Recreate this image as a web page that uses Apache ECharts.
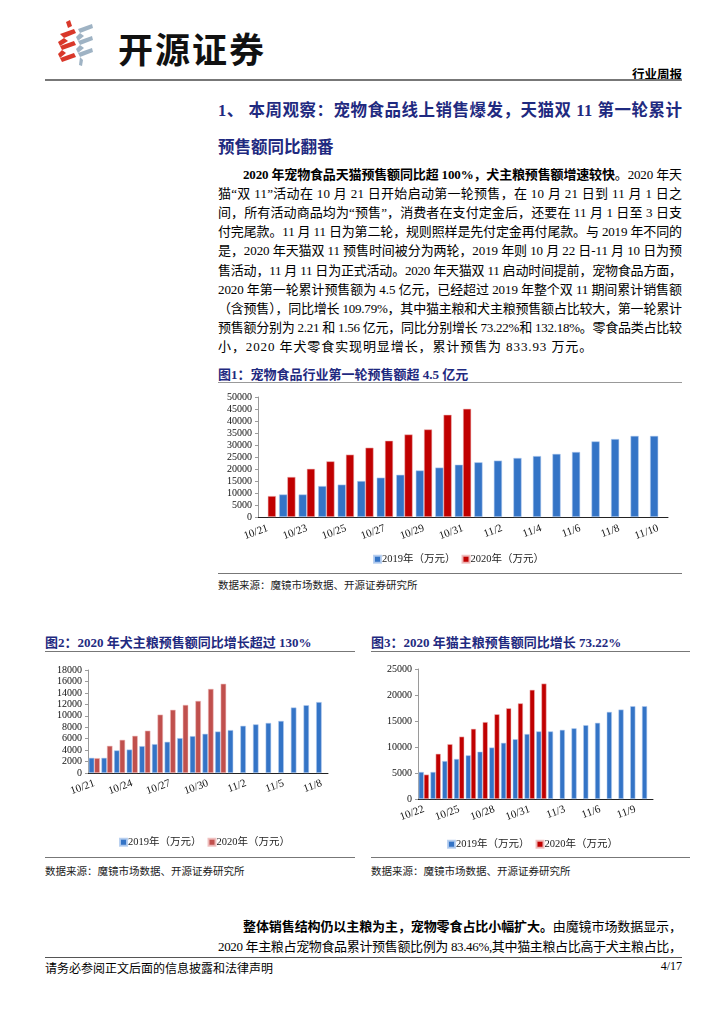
<!DOCTYPE html>
<html><head><meta charset="utf-8">
<script src="https://cdn.jsdelivr.net/npm/echarts@6/dist/echarts.min.js"></script>
<style>
html,body{margin:0;padding:0;background:#fff;}
body{width:724px;height:1024px;position:relative;overflow:hidden;font-family:"Liberation Serif","Noto Sans CJK SC",serif;color:#000;}
.abs{position:absolute;white-space:nowrap;}
.rule{position:absolute;height:0;}
.h1{position:absolute;left:218px;width:464px;font-size:16.5px;font-weight:bold;color:#1f2a80;white-space:nowrap;}
.p{position:absolute;left:218px;width:464px;font-size:13px;line-height:16px;white-space:nowrap;}
.ft{font-size:13px;font-weight:bold;color:#1f2a80;}
.src{font-size:10.5px;color:#222;}
.chart{position:absolute;}
</style></head>
<body>
<!-- header -->
<svg class="abs" style="left:56px;top:20px" width="40" height="46" viewBox="0 0 40 46">
  <path d="M10 2 L14 0 L16 6 L12 8 Z" fill="#d9382a"/>
  <path d="M4 14 L18 9 L20 13 L8 18 Z" fill="#d9382a"/>
  <path d="M8 18 L12 21 L4 26 L2 22 Z" fill="#d9382a"/>
  <path d="M4 26 L18 21 L20 25 L6 30 Z" fill="#d9382a"/>
  <path d="M6 30 L10 33 L4 38 L2 34 Z" fill="#d9382a"/>
  <path d="M4 38 L18 33 L20 37 L6 42 Z" fill="#d9382a"/>
  <path d="M22 9 L36 4 L37 8 L24 13 Z" fill="#9fb3c4"/>
  <path d="M24 13 L28 16 L22 21 L20 17 Z" fill="#9fb3c4"/>
  <path d="M22 21 L36 16 L37 20 L24 25 Z" fill="#9fb3c4"/>
  <path d="M24 25 L28 28 L22 33 L20 29 Z" fill="#9fb3c4"/>
  <path d="M22 33 L36 28 L37 32 L24 37 Z" fill="#9fb3c4"/>
  <path d="M24 37 L27 40 L26 46 L23 45 Z" fill="#9fb3c4"/>
</svg>
<div class="abs" style="left:118px;top:22px;font-family:'Noto Sans CJK SC';font-weight:bold;font-size:35px;letter-spacing:2px;color:#111;">开源证券</div>
<div class="abs" style="right:42px;top:64px;font-size:12.5px;font-weight:bold;">行业周报</div>
<div class="rule" style="left:45px;top:79px;width:637px;border-top:2px solid #777;"></div>

<div class="h1 jus" style="top:97px;">1、 本周观察：宠物食品线上销售爆发，天猫双 11 第一轮累计</div>
<div class="abs" style="left:218px;top:134px;font-size:16.5px;font-weight:bold;color:#1f2a80;">预售额同比翻番</div>

<div id="para"></div>

<!-- figure 1 -->
<div class="abs ft" style="left:218px;top:364px;">图1：宠物食品行业第一轮预售额超 4.5 亿元</div>
<div class="rule" style="left:218px;top:382px;width:464px;border-top:1.5px solid #999;"></div>
<div id="c1" class="chart" style="left:210px;top:385px;width:480px;height:185px;"></div>
<div class="rule" style="left:218px;top:573px;width:464px;border-top:1.5px solid #777;"></div>
<div class="abs src" style="left:218px;top:577px;">数据来源：魔镜市场数据、开源证券研究所</div>

<!-- figure 2 -->
<div class="abs ft" style="left:45px;top:632px;">图2：2020 年犬主粮预售额同比增长超过 130%</div>
<div class="rule" style="left:45px;top:651px;width:310px;border-top:1.5px solid #777;"></div>
<div id="c2" class="chart" style="left:30px;top:655px;width:320px;height:200px;"></div>
<div class="rule" style="left:45px;top:857px;width:310px;border-top:1.5px solid #777;"></div>
<div class="abs src" style="left:45px;top:863px;">数据来源：魔镜市场数据、开源证券研究所</div>

<!-- figure 3 -->
<div class="abs ft" style="left:371px;top:632px;">图3：2020 年猫主粮预售额同比增长 73.22%</div>
<div class="rule" style="left:371px;top:651px;width:319px;border-top:1.5px solid #777;"></div>
<div id="c3" class="chart" style="left:360px;top:655px;width:330px;height:200px;"></div>
<div class="rule" style="left:371px;top:857px;width:319px;border-top:1.5px solid #777;"></div>
<div class="abs src" style="left:371px;top:863px;">数据来源：魔镜市场数据、开源证券研究所</div>

<!-- bottom text -->
<div class="p jus" style="top:919px;left:243px;width:439px;"><b>整体销售结构仍以主粮为主，宠物零食占比小幅扩大。</b>由魔镜市场数据显示，</div>
<div class="p jus" style="top:939px;">2020 年主粮占宠物食品累计预售额比例为 83.46%,其中猫主粮占比高于犬主粮占比，</div>
<div class="rule" style="left:45px;top:957px;width:637px;border-top:1.5px solid #555;"></div>
<div class="abs" style="left:45px;top:959px;font-size:12px;">请务必参阅正文后面的信息披露和法律声明</div>
<div class="abs" style="right:42px;top:959px;font-size:12px;">4/17</div>

<script>
// ---------- paragraph ----------
const paraLines = [
  '<b>2020 年宠物食品天猫预售额同比超 100%，犬主粮预售额增速较快</b>。2020 年天',
  '猫“双 11”活动在 10 月 21 日开始启动第一轮预售，在 10 月 21 日到 11 月 1 日之',
  '间，所有活动商品均为“预售”，消费者在支付定金后，还要在 11 月 1 日至 3 日支',
  '付完尾款。11 月 11 日为第二轮，规则照样是先付定金再付尾款。与 2019 年不同的',
  '是，2020 年天猫双 11 预售时间被分为两轮，2019 年则 10 月 22 日-11 月 10 日为预',
  '售活动，11 月 11 日为正式活动。2020 年天猫双 11 启动时间提前，宠物食品方面，',
  '2020 年第一轮累计预售额为 4.5 亿元，已经超过 2019 年整个双 11 期间累计销售额',
  '（含预售），同比增长 109.79%，其中猫主粮和犬主粮预售额占比较大，第一轮累计',
  '预售额分别为 2.21 和 1.56 亿元，同比分别增长 73.22%和 132.18%。零食品类占比较',
  '小，2020 年犬零食实现明显增长，累计预售为 833.93 万元。'
];
const paraBox = document.getElementById('para');
paraLines.forEach((t, i) => {
  const d = document.createElement('div');
  d.className = 'p' + (i === paraLines.length - 1 ? '' : ' jus');
  d.style.top = (167 + i * 19.1) + 'px';
  if (i === 0) { d.style.left = '243px'; d.style.width = '439px'; }
  if (i === paraLines.length - 1) { d.style.letterSpacing = '0.9px'; }
  d.innerHTML = t;
  paraBox.appendChild(d);
});
// justify each single line by letter-spacing so it spans its box exactly
document.querySelectorAll('.jus').forEach(el => {
  const target = parseFloat(el.style.width || getComputedStyle(el).width);
  const r = document.createRange(); r.selectNodeContents(el);
  const natural = r.getBoundingClientRect().width;
  const n = el.textContent.length;
  const ls = (target - natural) / (n - 1);
  el.style.letterSpacing = ls + 'px';
});

// ---------- data ----------
const cat1 = ['10/21','10/22','10/23','10/24','10/25','10/26','10/27','10/28','10/29','10/30','10/31','11/1','11/2','11/3','11/4','11/5','11/6','11/7','11/8','11/9','11/10'];
const fig1_2019 = [null,9400,9400,12900,13500,15000,16400,17600,19400,20600,21800,22800,23500,24600,25400,26300,27100,31500,32500,33800,33800];
const fig1_2020 = [8750,16700,20100,23200,26000,28900,31800,34400,36500,42600,45100,null,null,null,null,null,null,null,null,null,null];

const cat2 = ['10/21','10/22','10/23','10/24','10/25','10/26','10/27','10/28','10/29','10/30','10/31','11/1','11/2','11/3','11/4','11/5','11/6','11/7','11/8'];
const fig2_2019 = [2650,2650,3950,4100,4700,5050,5450,6100,6450,6850,7250,7500,8250,8500,8750,9100,11450,11850,12400];
const fig2_2020 = [2600,4750,5800,6500,7400,10200,11050,11900,12600,14700,15600,null,null,null,null,null,null,null,null];

const cat3 = ['10/22','10/23','10/24','10/25','10/26','10/27','10/28','10/29','10/30','10/31','11/1','11/2','11/3','11/4','11/5','11/6','11/7','11/8','11/9','11/10'];
const fig3_2019 = [5200,5200,7300,7700,8400,9100,9900,10800,11500,12500,13000,13000,13300,13600,14200,14650,16750,17200,17850,17850];
const fig3_2020 = [4700,8700,10550,12000,13500,14800,16300,17450,18400,21000,22200,null,null,null,null,null,null,null,null,null];

const seriesNames = ['2019年（万元）', '2020年（万元）'];

// ---------- chart builder ----------
const FONT = '"Liberation Serif","Noto Sans CJK SC",serif';
function build(el, cats, a, b, cfg) {
  const ch = echarts.init(document.getElementById(el), null, {renderer: 'canvas'});
  ch.setOption({
    animation: false,
    textStyle: {fontFamily: FONT},
    grid: cfg.grid,
    legend: {
      data: seriesNames, icon: 'rect', itemWidth: 7, itemHeight: 7, itemGap: 6,
      left: cfg.legendLeft, top: cfg.legendTop,
      textStyle: {fontFamily: FONT, fontSize: 10.5, color: '#222', padding: [0,0,0,-4]}
    },
    xAxis: {
      type: 'category', data: cats,
      axisLine: {lineStyle: {color: '#222', width: 1}},
      axisTick: {show: false},
      axisLabel: {interval: cfg.labelInterval, rotate: 20, fontSize: 11, color: '#111', fontFamily: FONT, margin: cfg.labelMargin}
    },
    yAxis: {
      type: 'value', min: 0, max: cfg.max, interval: cfg.interval,
      splitLine: {show: false},
      axisLine: {show: true, lineStyle: {color: '#9a9a9a'}},
      axisTick: {show: true, length: 3, lineStyle: {color: '#9a9a9a'}},
      axisLabel: {fontSize: 10, color: '#111', fontFamily: FONT, margin: 6, formatter: v => String(v)}
    },
    series: [
      {name: seriesNames[0], type: 'bar', data: a, barGap: '0%', barCategoryGap: cfg.catGap,
       itemStyle: {color: cfg.c1, borderColor: 'rgba(180,205,240,0.9)', borderWidth: 0.6}},
      {name: seriesNames[1], type: 'bar', data: b, barGap: '0%', barCategoryGap: cfg.catGap,
       itemStyle: {color: cfg.c2, borderColor: 'rgba(240,190,190,0.9)', borderWidth: 0.6}}
    ]
  });
}

build('c1', cat1, fig1_2019, fig1_2020, {
  grid: {left: 48, top: 12, width: 410, height: 120},
  max: 50000, interval: 5000, labelInterval: 1, catGap: '16%', labelMargin: 11,
  c1: '#3474c6', c2: '#c00000', legendLeft: 158, legendTop: 164
});
build('c2', cat2, fig2_2019, fig2_2020, {
  grid: {left: 58, top: 15, width: 240, height: 103},
  max: 18000, interval: 2000, labelInterval: 2, catGap: '12%', labelMargin: 10,
  c1: '#3474c6', c2: '#c0504d', legendLeft: 84, legendTop: 177
});
build('c3', cat3, fig3_2019, fig3_2020, {
  grid: {left: 58, top: 14, width: 235, height: 130},
  max: 25000, interval: 5000, labelInterval: 2, catGap: '12%', labelMargin: 10,
  c1: '#3474c6', c2: '#c00000', legendLeft: 82, legendTop: 179
});
</script>
</body></html>
